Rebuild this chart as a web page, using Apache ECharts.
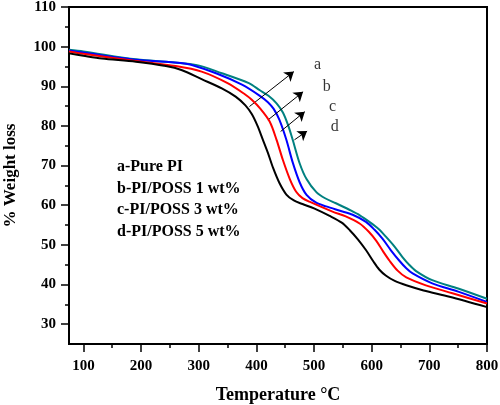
<!DOCTYPE html>
<html>
<head>
<meta charset="utf-8">
<script src="https://cdn.jsdelivr.net/npm/echarts@6/dist/echarts.min.js"></script>
<style>
html,body{margin:0;padding:0;background:#fff;}
#chart{width:500px;height:405px;}
</style>
</head>
<body>
<div id="chart"></div>
<script>
// ---- data (temperature °C, weight %) ----
const seriesNames = ['a-Pure PI', 'b-PI/POSS 1 wt%', 'c-PI/POSS 3 wt%', 'd-PI/POSS 5 wt%'];
const curveA = [[75,98.3],[100,97.7],[132,97.0],[191,96.2],[243,95.1],[270,94.1],[305,91.8],[340,89.5],[364,87.4],[381,85.2],[392,83],[402,80],[411,76.6],[420,73.2],[429,69.4],[440,65.6],[452,62.7],[465,61.2],[480,60.3],[500,59.2],[527,57.3],[548,55.6],[562,53.7],[576,51.4],[590,48.7],[603,45.8],[613,43.8],[625,42.2],[640,40.9],[660,39.8],[690,38.5],[735,36.9],[800,34.3]];
const curveB = [[75,98.8],[100,98.2],[191,96.4],[260,95.1],[305,93.7],[350,90.8],[380,88],[392,86.6],[406,84.5],[423,81.1],[435,76.5],[446,71.4],[458,66.6],[469,63.4],[480,61.8],[492,60.9],[532,58.4],[555,57.2],[579,55.4],[595,53.3],[608,51.0],[620,48.3],[631,46.0],[645,43.5],[660,41.8],[694,39.8],[740,37.8],[800,35.2]];
const curveC = [[75,99.0],[100,98.5],[191,96.7],[278,95.7],[330,93.3],[375,90.4],[406,87.6],[420,86.0],[430,84.3],[440,81.5],[452,76.5],[463,70.8],[475,65.8],[487,62.6],[503,60.7],[521,59.7],[545,58.6],[567,57.6],[590,55.8],[605,53.8],[619,51.5],[633,48.7],[648,46.0],[660,44.1],[671,42.8],[705,40.3],[750,38.2],[800,35.6]];
const curveD = [[75,99.2],[100,98.8],[191,96.8],[295,95.4],[340,93.3],[387,90.8],[406,89.0],[421,87.6],[435,85.7],[446,83.4],[455,80.2],[463,76.5],[475,70.6],[487,66.6],[504,63.3],[520,61.7],[538,60.5],[562,58.8],[580,57.4],[596,55.8],[612,54.0],[625,52.0],[640,49.5],[653,47.0],[665,45.0],[677,43.4],[705,41.1],[750,39.0],[800,36.4]];
const curveColors = ['#000000', '#ff0000', '#0000ff', '#008080'];

const xTickLabels = [100, 200, 300, 400, 500, 600, 700, 800];
const xMinorTicks = [150, 250, 350, 450, 550, 650, 750];
const yTickLabels = [30, 40, 50, 60, 70, 80, 90, 100, 110];
const yMinorTicks = [35, 45, 55, 65, 75, 85, 95, 105];

// arrows: [startX, startY, endX, endY]
const arrows = [[388, 84.9, 465, 93.7], [420, 81.5, 481, 88.6], [442, 78.6, 484, 83.6], [466, 76.5, 488, 78.7]];
// letter labels: [x, y, text]
const letterLabels = [[506, 95.4, 'a'], [522, 89.9, 'b'], [532, 84.9, 'c'], [536, 79.8, 'd']];

const serif = "'Liberation Serif','Times New Roman',serif";
const chart = echarts.init(document.getElementById('chart'), null, {renderer: 'canvas'});

const curves = [curveA, curveB, curveC, curveD];
const series = curves.map((c, i) => ({
  name: seriesNames[i],
  type: 'line',
  data: c,
  smooth: 0.3,
  showSymbol: false,
  symbol: 'none',
  lineStyle: {color: curveColors[i], width: 2},
  z: 3 + (3 - i),
  animation: false
}));

series.push({
  type: 'line',
  data: [],
  silent: true,
  animation: false,
  markLine: {
    silent: true,
    animation: false,
    symbol: ['none', 'arrow'],
    symbolSize: 9,
    label: {show: false},
    lineStyle: {color: '#000', width: 1, type: 'solid'},
    itemStyle: {color: '#000'},
    emphasis: {disabled: true},
    data: arrows.map(a => [{coord: [a[0], a[1]]}, {coord: [a[2], a[3]]}])
  },
  z: 10
});

series.push({
  type: 'scatter',
  data: letterLabels,
  symbolSize: 1,
  itemStyle: {color: 'rgba(0,0,0,0)'},
  silent: true,
  animation: false,
  label: {
    show: true,
    position: 'inside',
    formatter: p => p.value[2],
    color: '#000',
    fontFamily: serif,
    fontSize: 16
  }
});

const legendTop = 166.7, legendStep = 21.7;

chart.setOption({
  animation: false,
  backgroundColor: '#fff',
  grid: {left: 69, right: 13, top: 7, bottom: 61, show: true, borderColor: '#000', borderWidth: 2, backgroundColor: 'transparent', containLabel: false, outerBoundsMode: 'none'},
  xAxis: [{
    type: 'value', min: 75, max: 800,
    name: 'Temperature \u00B0C', nameLocation: 'middle', nameGap: 42,
    nameTextStyle: {fontFamily: serif, fontWeight: 'bold', fontSize: 18, color: '#000'},
    axisLine: {show: true, lineStyle: {color: '#000', width: 2}},
    axisTick: {show: true, inside: false, length: 8, lineStyle: {color: '#000', width: 1.5}, customValues: xTickLabels},
    axisLabel: {show: true, margin: 15, fontFamily: serif, fontWeight: 'bold', fontSize: 15, color: '#000', customValues: xTickLabels},
    splitLine: {show: false}
  }, {
    type: 'value', min: 75, max: 800, gridIndex: 0, position: 'bottom',
    axisLine: {show: false},
    axisTick: {show: true, inside: false, length: 4, lineStyle: {color: '#000', width: 1.5}, customValues: xMinorTicks},
    axisLabel: {show: false},
    splitLine: {show: false}
  }],
  yAxis: [{
    type: 'value', min: 25, max: 110,
    name: '% Weight loss', nameLocation: 'middle', nameGap: 50,
    nameTextStyle: {fontFamily: serif, fontWeight: 'bold', fontSize: 17, color: '#000'},
    axisLine: {show: true, lineStyle: {color: '#000', width: 2}},
    axisTick: {show: true, inside: false, length: 8, lineStyle: {color: '#000', width: 1.5}, customValues: yTickLabels},
    axisLabel: {show: true, margin: 13, fontFamily: serif, fontWeight: 'bold', fontSize: 15, color: '#000', customValues: yTickLabels},
    splitLine: {show: false}
  }, {
    type: 'value', min: 25, max: 110, gridIndex: 0, position: 'left',
    axisLine: {show: false},
    axisTick: {show: true, inside: false, length: 4, lineStyle: {color: '#000', width: 1.5}, customValues: yMinorTicks},
    axisLabel: {show: false},
    splitLine: {show: false}
  }],
  graphic: seriesNames.map((n, i) => ({
    type: 'text',
    x: 117,
    y: legendTop + i * legendStep,
    silent: true,
    style: {text: n, fill: '#000', font: 'bold 16px ' + serif, verticalAlign: 'middle', align: 'left'}
  })),
  series: series
});
</script>
</body>
</html>
